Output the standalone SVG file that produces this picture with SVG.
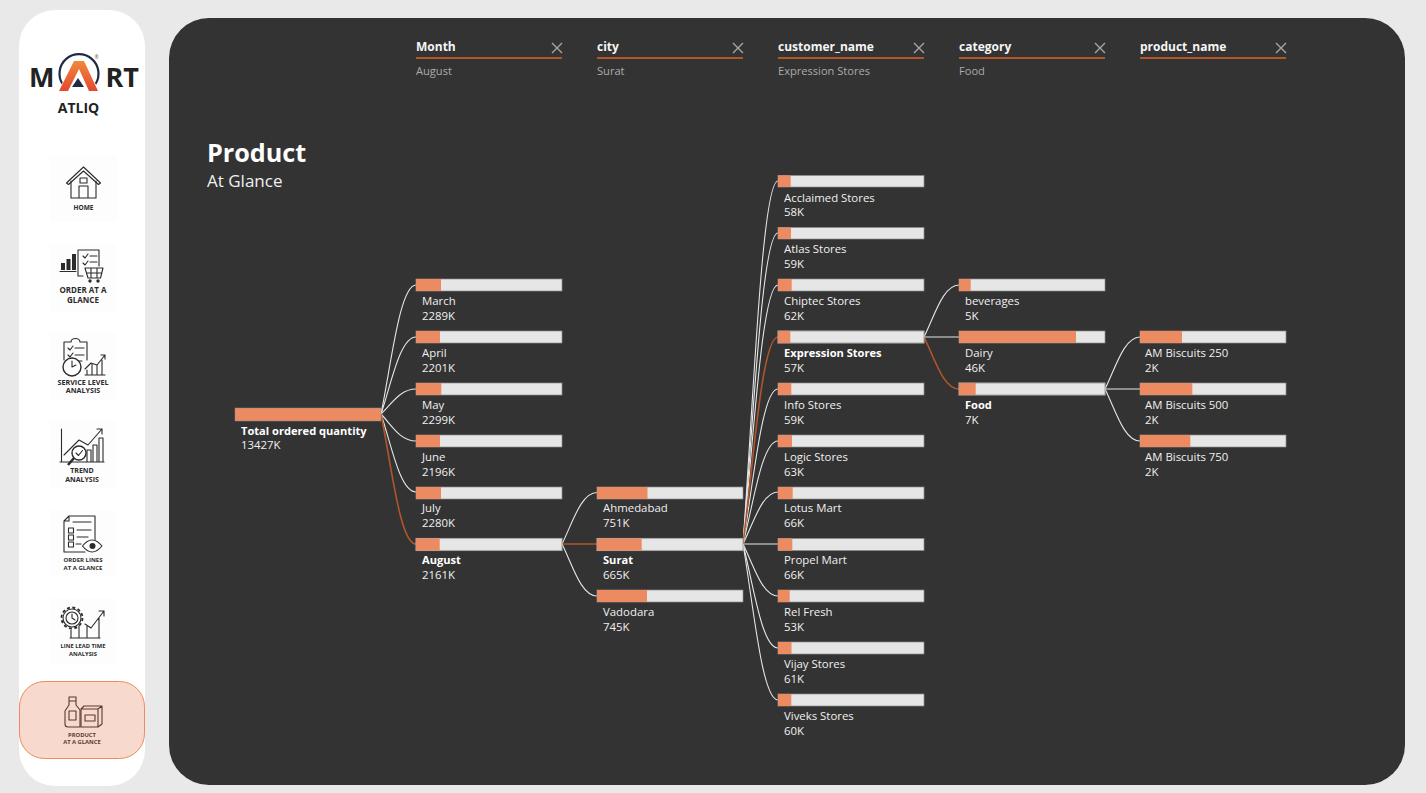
<svg xmlns="http://www.w3.org/2000/svg" width="1426" height="793" viewBox="0 0 1426 793">
<defs>
<linearGradient id="logoG" x1="0" y1="0" x2="0" y2="1"><stop offset="0" stop-color="#F08A3C"/><stop offset="1" stop-color="#E4472F"/></linearGradient>
</defs>
<style>
text{font-family:"Open Sans","Noto Sans","Liberation Sans",sans-serif}
.track{fill:#E6E6E6;stroke:#8C8C8C;stroke-width:.7}
.sel{stroke:#A8A8A8;stroke-width:1.1}
.fill{fill:#EC8B62}
.lbl{font-size:11.4px;fill:#F0F0F0}
.b{font-size:11.1px;font-weight:700;fill:#FFF}
.link{fill:none;stroke:#E6E6E6;stroke-width:1.1}
.hot{fill:none;stroke:#B0562A;stroke-width:1.6}
.fh{font-size:12px;font-weight:700;fill:#F5F5F5}
.fv{font-size:11.1px;fill:#ABABAB}
.rule{stroke:#B0562A;stroke-width:2}
.x{stroke:#A6A6A6;stroke-width:1.4;fill:none}
.tile{fill:#FDFDFD}
.ic{fill:none;stroke:#2B2B2B;stroke-width:1.1;stroke-linejoin:round;stroke-linecap:round}
.ics{fill:#2B2B2B}
.cap{font-weight:700;fill:#2B2B2B;text-anchor:middle}
</style>
<rect width="1426" height="793" fill="#E9E9E9"/>
<rect id="panel" x="169" y="18" width="1236" height="767" rx="40" fill="#333333"/>

<g id="sidebar">
<rect x="19" y="10" width="126" height="776" rx="36" fill="#FFFFFF"/>
<g id="logo">
<text x="29" y="87" font-size="27" font-weight="700" fill="#222">M</text>
<text x="105.500" y="87" font-size="27" font-weight="700" fill="#222">RT</text>
<path d="M62.500 84A19.500 19.500 0 1 1 95.500 84" fill="none" stroke="#1F2A44" stroke-width="2.200"/>
<path d="M59 91L74 61H84L98 91H89L79 69L68 91Z" fill="url(#logoG)" stroke="#FFF" stroke-width="1.200" paint-order="stroke"/>
<path d="M78 78L84 87H72Z" fill="#1F2A44"/>
<text x="96.500" y="59" font-size="5" fill="#555" text-anchor="middle">®</text>
<text x="78.500" y="113" font-size="14" font-weight="700" fill="#222" text-anchor="middle">ATLIQ</text>
</g>
<g id="nav-home">
<rect class="tile" x="50" y="156" width="67" height="66"/>
<path class="ic" d="M66.500 183L83.500 167L100.500 183L98.500 184.500L83.500 171L68.500 184.500Z"/>
<path class="ic" d="M71 181V198H96V181M79 198V186H88V198M80 178H87V183H80Z"/>
<text class="cap" x="83.500" y="210" font-size="6.500">HOME</text>
</g>
<g id="nav-order">
<rect class="tile" x="50" y="244" width="66" height="67"/>
<path class="ics" d="M61 263H65V270H61ZM66.500 259H70.500V270H66.500ZM72 254H76V270H72Z"/>
<path class="ic" d="M60 271.500H76M83 276H78V250H99V266"/>
<path class="ic" d="M83 256L85 258L88 254M90 256H97M83 263L85 265L88 261M90 262H97"/>
<path class="ic" d="M85 268H103L100.500 278H88ZM91 268V278M97 268V278M86.500 273H102"/>
<circle class="ics" cx="90" cy="281" r="1.700"/><circle class="ics" cx="98" cy="281" r="1.700"/>
<text class="cap" x="83" y="293" font-size="8">ORDER AT A</text>
<text class="cap" x="83" y="303" font-size="8">GLANCE</text>
</g>
<g id="nav-service">
<rect class="tile" x="50" y="333" width="66" height="67"/>
<path class="ic" d="M64 360V342H71A4.500 3.500 0 0 1 80 342H87V360"/>
<path class="ic" d="M68 348L70 350L73 346M75 348H84M68 355L70 357L73 353M75 355H84M75 361H82"/>
<circle cx="72" cy="367" r="9" fill="#FFF" stroke="#2B2B2B" stroke-width="1.400"/>
<path class="ic" d="M72 361V367L76 365"/>
<path class="ic" d="M85 375H105M87 375V370M92 375V364M97 375V365M102 375V360M85 369L91 363L97 365L105 355M101 355H105V359"/>
<text class="cap" x="83" y="385" font-size="7.200">SERVICE LEVEL</text>
<text class="cap" x="83" y="393" font-size="7.200">ANALYSIS</text>
</g>
<g id="nav-trend">
<rect class="tile" x="50" y="421" width="66" height="67"/>
<path class="ic" d="M61.500 429V462M60 462H104M87 462V450H91V462M93 462V445H97V462M99 462V438H103V462"/>
<path class="ic" d="M64 455L79 440L88 445L102 429M97 429H102V434"/>
<circle cx="79" cy="453" r="7" fill="#FFF" stroke="#2B2B2B" stroke-width="1.400"/>
<path class="ic" d="M76 453L78.500 455.500L82.500 450.500"/>
<path d="M74 458L68 465" stroke="#2B2B2B" stroke-width="2.500" fill="none"/>
<text class="cap" x="82" y="473" font-size="7">TREND</text>
<text class="cap" x="82" y="482" font-size="7">ANALYSIS</text>
</g>
<g id="nav-lines">
<rect class="tile" x="50" y="510" width="66" height="66"/>
<path class="ic" d="M69 516H95V540M85 552H64V521L69 516V521H64"/>
<path class="ic" d="M73 522H91M68.500 528H73.500V533H68.500ZM77 530H91M68.500 535H73.500V540H68.500ZM77 537H88M68.500 542H73.500V547H68.500ZM76 544H81"/>
<path class="ic" d="M82.500 546Q92 534 102 546Q92 558 82.500 546Z"/>
<circle class="ics" cx="92.500" cy="546" r="3"/>
<text class="cap" x="83" y="562" font-size="6">ORDER LINES</text>
<text class="cap" x="83" y="570" font-size="6">AT A GLANCE</text>
</g>
<g id="nav-lead">
<rect class="tile" x="50" y="598" width="66" height="66"/>
<circle cx="72" cy="618" r="10.500" fill="none" stroke="#2B2B2B" stroke-width="1.800" stroke-dasharray="3 2.500"/>
<circle class="ic" cx="72" cy="618" r="9"/>
<circle class="ic" cx="72" cy="618" r="6"/>
<path class="ic" d="M72 614V618L75 620"/>
<path class="ic" d="M70 638H100M71 638V630M79 638V626M87 638V626M99 638V618M85 624L91 628L104 611M99 611H104V616"/>
<text class="cap" x="83" y="648" font-size="5.800">LINE LEAD TIME</text>
<text class="cap" x="83" y="656" font-size="5.800">ANALYSIS</text>
</g>
<g id="nav-product">
<rect x="19.500" y="681.500" width="125" height="77" rx="25" fill="#F8D9CD" stroke="#EC8B62"/>
<path class="ic" style="stroke:#5A3A30" d="M69 697H76V701H69ZM69 701V705L65 711V724Q65 727 68 727H80M76 701V705L80 710V727M69 711H76V720H69Z"/>
<path class="ic" style="stroke:#5A3A30" d="M81 709H98V727H81ZM81 709L84 706H102V724L98 727M98 709L102 706M85 715H95V721H85Z"/>
<text class="cap" style="fill:#5A3A30" x="82" y="737" font-size="5.800">PRODUCT</text>
<text class="cap" style="fill:#5A3A30" x="82" y="744" font-size="5.800">AT A GLANCE</text>
</g>
</g>

<g id="heading">
<text x="207" y="162" font-size="25.200" font-weight="700" fill="#FFF">Product</text>
<text x="207" y="187" font-size="17" fill="#F0F0F0">At Glance</text>
</g>

<g id="filters">
<g id="filter-month"><text class="fh" x="416" y="51">Month</text><path class="x" d="M552 43L562 53M562 43L552 53"/><line class="rule" x1="416" y1="58" x2="562" y2="58"/><text class="fv" x="416" y="75">August</text></g>
<g id="filter-city"><text class="fh" x="597" y="51">city</text><path class="x" d="M733 43L743 53M743 43L733 53"/><line class="rule" x1="597" y1="58" x2="743" y2="58"/><text class="fv" x="597" y="75">Surat</text></g>
<g id="filter-customer"><text class="fh" x="778" y="51">customer_name</text><path class="x" d="M914 43L924 53M924 43L914 53"/><line class="rule" x1="778" y1="58" x2="924" y2="58"/><text class="fv" x="778" y="75">Expression Stores</text></g>
<g id="filter-category"><text class="fh" x="959" y="51">category</text><path class="x" d="M1095 43L1105 53M1105 43L1095 53"/><line class="rule" x1="959" y1="58" x2="1105" y2="58"/><text class="fv" x="959" y="75">Food</text></g>
<g id="filter-product"><text class="fh" x="1140" y="51">product_name</text><path class="x" d="M1276 43L1286 53M1286 43L1276 53"/><line class="rule" x1="1140" y1="58" x2="1286" y2="58"/></g>
</g>

<g id="connectors">
<path class="link" d="M381 414C391.500 362 400 285 416 285"/>
<path class="link" d="M381 414C391.500 383 400 337 416 337"/>
<path class="link" d="M381 414C391.500 404 400 389 416 389"/>
<path class="link" d="M381 414C391.500 425 400 441 416 441"/>
<path class="link" d="M381 414C391.500 445 400 492 416 492"/>
<path class="hot" d="M381 414C391.500 466 400 544 416 544"/>
<path class="link" d="M562 544C572.500 523 581 492.500 597 492.500"/>
<path class="hot" d="M562 544H597"/>
<path class="link" d="M562 544C572.500 565 581 596 597 596"/>
<path class="link" d="M743 544C753.500 399 762 181 778 181"/>
<path class="link" d="M743 544C753.500 420 762 233 778 233"/>
<path class="link" d="M743 544C753.500 440 762 285 778 285"/>
<path class="link" d="M743 544C753.500 482 762 389 778 389"/>
<path class="link" d="M743 544C753.500 503 762 441 778 441"/>
<path class="link" d="M743 544C753.500 523 762 492 778 492"/>
<path class="link" d="M743 544H778"/>
<path class="link" d="M743 544C753.500 565 762 596 778 596"/>
<path class="link" d="M743 544C753.500 586 762 648 778 648"/>
<path class="link" d="M743 544C753.500 606 762 700 778 700"/>
<path class="hot" d="M743 544C753.500 461 762 337 778 337"/>
<path class="link" d="M924 337C934.500 316 943 285 959 285"/>
<path class="link" d="M924 337H959"/>
<path class="hot" d="M924 337C934.500 358 943 389 959 389"/>
<path class="link" d="M1105 389C1115.500 368 1124 337 1140 337"/>
<path class="link" d="M1105 389H1140"/>
<path class="link" d="M1105 389C1115.500 410 1124 441 1140 441"/>
</g>

<g id="n-total"><rect x="235" y="408" width="146" height="13" fill="#EC8B62" stroke="#8C8C8C" stroke-width=".5"/><text class="lbl b" x="241" y="435">Total ordered quantity</text><text class="lbl" x="241" y="449">13427K</text></g>

<g id="n-march"><rect class="track" x="416" y="279" width="146" height="12"/><rect class="fill" x="416" y="279" width="25" height="12"/><text class="lbl" x="422" y="305">March</text><text class="lbl" x="422" y="319.500">2289K</text></g>
<g id="n-april"><rect class="track" x="416" y="331" width="146" height="12"/><rect class="fill" x="416" y="331" width="24" height="12"/><text class="lbl" x="422" y="357">April</text><text class="lbl" x="422" y="371.500">2201K</text></g>
<g id="n-may"><rect class="track" x="416" y="383" width="146" height="12"/><rect class="fill" x="416" y="383" width="25.300" height="12"/><text class="lbl" x="422" y="409">May</text><text class="lbl" x="422" y="423.500">2299K</text></g>
<g id="n-june"><rect class="track" x="416" y="435" width="146" height="12"/><rect class="fill" x="416" y="435" width="24" height="12"/><text class="lbl" x="422" y="461">June</text><text class="lbl" x="422" y="475.500">2196K</text></g>
<g id="n-july"><rect class="track" x="416" y="487" width="146" height="12"/><rect class="fill" x="416" y="487" width="25" height="12"/><text class="lbl" x="422" y="512">July</text><text class="lbl" x="422" y="526.500">2280K</text></g>
<g id="n-august"><rect class="track sel" x="416" y="538.500" width="146" height="12"/><rect class="fill" x="416" y="538.500" width="23.700" height="12"/><text class="lbl b" x="422" y="564">August</text><text class="lbl" x="422" y="578.500">2161K</text></g>

<g id="n-ahmedabad"><rect class="track" x="597" y="487" width="146" height="12"/><rect class="fill" x="597" y="487" width="50.500" height="12"/><text class="lbl" x="603" y="512">Ahmedabad</text><text class="lbl" x="603" y="526.500">751K</text></g>
<g id="n-surat"><rect class="track sel" x="597" y="538.500" width="146" height="12"/><rect class="fill" x="597" y="538.500" width="44.700" height="12"/><text class="lbl b" x="603" y="564">Surat</text><text class="lbl" x="603" y="578.500">665K</text></g>
<g id="n-vadodara"><rect class="track" x="597" y="590" width="146" height="12"/><rect class="fill" x="597" y="590" width="50" height="12"/><text class="lbl" x="603" y="616">Vadodara</text><text class="lbl" x="603" y="630.500">745K</text></g>

<g id="n-acclaimed"><rect class="track" x="778" y="175.500" width="146" height="11.500"/><rect class="fill" x="778" y="175.500" width="12.700" height="11.500"/><text class="lbl" x="784" y="202">Acclaimed Stores</text><text class="lbl" x="784" y="216">58K</text></g>
<g id="n-atlas"><rect class="track" x="778" y="227.500" width="146" height="11.500"/><rect class="fill" x="778" y="227.500" width="13" height="11.500"/><text class="lbl" x="784" y="253">Atlas Stores</text><text class="lbl" x="784" y="268">59K</text></g>
<g id="n-chiptec"><rect class="track" x="778" y="279" width="146" height="12"/><rect class="fill" x="778" y="279" width="13.700" height="12"/><text class="lbl" x="784" y="305">Chiptec Stores</text><text class="lbl" x="784" y="319.500">62K</text></g>
<g id="n-expression"><rect class="track sel" x="778" y="331" width="146" height="12"/><rect class="fill" x="778" y="331" width="12.300" height="12"/><text class="lbl b" x="784" y="357">Expression Stores</text><text class="lbl" x="784" y="371.500">57K</text></g>
<g id="n-info"><rect class="track" x="778" y="383" width="146" height="12"/><rect class="fill" x="778" y="383" width="13.300" height="12"/><text class="lbl" x="784" y="409">Info Stores</text><text class="lbl" x="784" y="423.500">59K</text></g>
<g id="n-logic"><rect class="track" x="778" y="435" width="146" height="12"/><rect class="fill" x="778" y="435" width="14" height="12"/><text class="lbl" x="784" y="461">Logic Stores</text><text class="lbl" x="784" y="475.500">63K</text></g>
<g id="n-lotus"><rect class="track" x="778" y="487" width="146" height="12"/><rect class="fill" x="778" y="487" width="14.700" height="12"/><text class="lbl" x="784" y="512">Lotus Mart</text><text class="lbl" x="784" y="526.500">66K</text></g>
<g id="n-propel"><rect class="track" x="778" y="538.500" width="146" height="12"/><rect class="fill" x="778" y="538.500" width="14.300" height="12"/><text class="lbl" x="784" y="564">Propel Mart</text><text class="lbl" x="784" y="578.500">66K</text></g>
<g id="n-rel"><rect class="track" x="778" y="590" width="146" height="12"/><rect class="fill" x="778" y="590" width="11.700" height="12"/><text class="lbl" x="784" y="616">Rel Fresh</text><text class="lbl" x="784" y="630.500">53K</text></g>
<g id="n-vijay"><rect class="track" x="778" y="642" width="146" height="12"/><rect class="fill" x="778" y="642" width="13.500" height="12"/><text class="lbl" x="784" y="668">Vijay Stores</text><text class="lbl" x="784" y="682.500">61K</text></g>
<g id="n-viveks"><rect class="track" x="778" y="694" width="146" height="12"/><rect class="fill" x="778" y="694" width="13.300" height="12"/><text class="lbl" x="784" y="720">Viveks Stores</text><text class="lbl" x="784" y="734.500">60K</text></g>

<g id="n-beverages"><rect class="track" x="959" y="279" width="146" height="12"/><rect class="fill" x="959" y="279" width="11.700" height="12"/><text class="lbl" x="965" y="305">beverages</text><text class="lbl" x="965" y="319.500">5K</text></g>
<g id="n-dairy"><rect class="track" x="959" y="331" width="146" height="12"/><rect class="fill" x="959" y="331" width="117" height="12"/><text class="lbl" x="965" y="357">Dairy</text><text class="lbl" x="965" y="371.500">46K</text></g>
<g id="n-food"><rect class="track sel" x="959" y="383" width="146" height="12"/><rect class="fill" x="959" y="383" width="16.700" height="12"/><text class="lbl b" x="965" y="409">Food</text><text class="lbl" x="965" y="423.500">7K</text></g>

<g id="n-am250"><rect class="track" x="1140" y="331" width="146" height="12"/><rect class="fill" x="1140" y="331" width="42" height="12"/><text class="lbl" x="1145" y="357">AM Biscuits 250</text><text class="lbl" x="1145" y="371.500">2K</text></g>
<g id="n-am500"><rect class="track" x="1140" y="383" width="146" height="12"/><rect class="fill" x="1140" y="383" width="52.300" height="12"/><text class="lbl" x="1145" y="409">AM Biscuits 500</text><text class="lbl" x="1145" y="423.500">2K</text></g>
<g id="n-am750"><rect class="track" x="1140" y="435" width="146" height="12"/><rect class="fill" x="1140" y="435" width="50.300" height="12"/><text class="lbl" x="1145" y="461">AM Biscuits 750</text><text class="lbl" x="1145" y="475.500">2K</text></g>
</svg>
